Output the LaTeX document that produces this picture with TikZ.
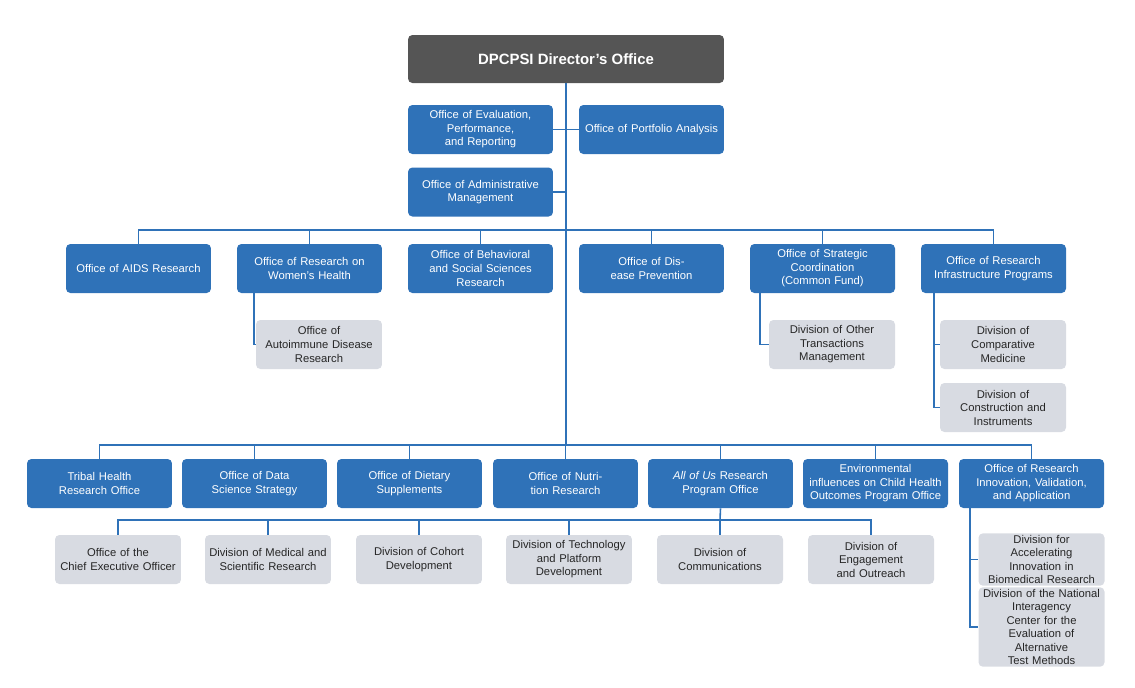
\documentclass[tikz,border=0pt]{standalone}
\usepackage{fontspec}
\setmainfont{Liberation Sans}
\begin{document}
\begin{tikzpicture}[x=0.02cm,y=-0.02cm,
 bx/.style={rounded corners=2.5pt,align=center,inner sep=1pt,font=\fontsize{6.4}{7.7}\selectfont},
 blue/.style={bx,fill=nihblue,text=white,minimum width=2.9cm,minimum height=0.98cm,text width=2.75cm},
 grey/.style={bx,fill=nihgrey,text=black!85,minimum width=2.52cm,minimum height=0.98cm,text width=2.4cm},
 ln/.style={draw=nihblue,line width=0.9pt}]
\definecolor{nihblue}{HTML}{2F72B8}
\definecolor{nihgrey}{HTML}{D8DBE2}
\definecolor{dark}{HTML}{555555}
\useasboundingbox (0,0) rectangle (1135,687);
% nodes
\node[bx,fill=dark,text=white,minimum width=6.32cm,minimum height=0.96cm,font=\bfseries\fontsize{8.5}{10}\selectfont] (dir) at (566,59) {DPCPSI Director’s Office};
\node[blue] (eval) at (480.5,129.5) {Office of Evaluation,\\Performance,\\and Reporting};
\node[blue] (port) at (651.5,129.5) {Office of Portfolio Analysis};
\node[blue] (adm) at (480.5,192) {Office of Administrative\\Management};
\node[blue] (aids) at (138.5,268.5) {Office of AIDS Research};
\node[blue] (wom) at (309.5,268.5) {Office of Research on\\Women’s Health};
\node[blue] (beh) at (480.5,268.5) {Office of Behavioral\\and Social Sciences\\Research};
\node[blue] (dis) at (651.5,268.5) {Office of Disease Prevention};
\node[blue] (str) at (822.5,268.5) {Office of Strategic\\Coordination\\(Common Fund)};
\node[blue] (inf) at (993.5,268.5) {Office of Research\\Infrastructure Programs};
\node[grey] (auto) at (319,344.5) {Office of\\Autoimmune Disease\\Research};
\node[grey] (oth) at (832,344.5) {Division of Other\\Transactions\\Management};
\node[grey] (comp) at (1003,344.5) {Division of\\Comparative\\Medicine};
\node[grey] (cons) at (1003,407.5) {Division of\\Construction and\\Instruments};
\node[blue] (tri) at (99.5,483.5) {Tribal Health\\Research Office};
\node[blue] (dat) at (254.5,483.5) {Office of Data\\Science Strategy};
\node[blue] (die) at (409.5,483.5) {Office of Dietary\\Supplements};
\node[blue] (nut) at (565.5,483.5) {Office of Nutrition Research};
\node[blue] (all) at (720.5,483.5) {\textit{All of Us} Research\\Program Office};
\node[blue] (env) at (875.5,483.5) {Environmental\\influences on Child Health\\Outcomes Program Office};
\node[blue] (inn) at (1031.5,483.5) {Office of Research\\Innovation, Validation,\\and Application};
\node[grey] (ceo) at (118,559.5) {Office of the\\Chief Executive Officer};
\node[grey] (med) at (268,559.5) {Division of Medical and\\Scientific Research};
\node[grey] (coh) at (419,559.5) {Division of Cohort\\Development};
\node[grey] (tec) at (569,559.5) {Division of Technology\\and Platform\\Development};
\node[grey] (com) at (720,559.5) {Division of\\Communications};
\node[grey] (eng) at (871,559.5) {Division of Engagement\\and Outreach};
\node[grey] (acc) at (1041.5,559.5) {Division for Accelerating\\Innovation in\\Biomedical Research};
\node[grey,minimum height=1.16cm] (nat) at (1041.5,627) {Division of the National\\Interagency Center for the\\Evaluation of Alternative\\Test Methods};
% connectors
\coordinate (b1) at (566,445);
\draw[ln] (dir.south) -- (b1);
\draw[ln] (eval.east) -- (port.west);
\draw[ln] (adm.east) -- (adm.east -| dir.south);
\draw[ln] (aids.north) |- (566,230) -| (inf.north);
\foreach \n in {wom,beh,dis,str} \draw[ln] (\n.north) -- (\n.north |- 0,230);
\draw[ln] (tri.north) |- (b1) -| (inn.north);
\foreach \n in {dat,die,nut,all,env} \draw[ln] (\n.north) -- (\n.north |- 0,445);
\draw[ln] (wom.south -| 254,0) |- (auto.west);
\draw[ln] (str.south -| 760,0) |- (oth.west);
\draw[ln] (inf.south -| 934,0) |- (cons.west);
\draw[ln] (comp.west) -- (comp.west -| 934,0);
\draw[ln] (inn.south -| 970,0) |- (nat.west);
\draw[ln] (acc.west) -- (acc.west -| 970,0);
\coordinate (b2) at (720,520);
\draw[ln] (all.south) -- (b2);
\draw[ln] (ceo.north) |- (b2) -| (eng.north);
\foreach \n in {med,coh,tec,com} \draw[ln] (\n.north) -- (\n.north |- 0,520);
\end{tikzpicture}
\end{document}
